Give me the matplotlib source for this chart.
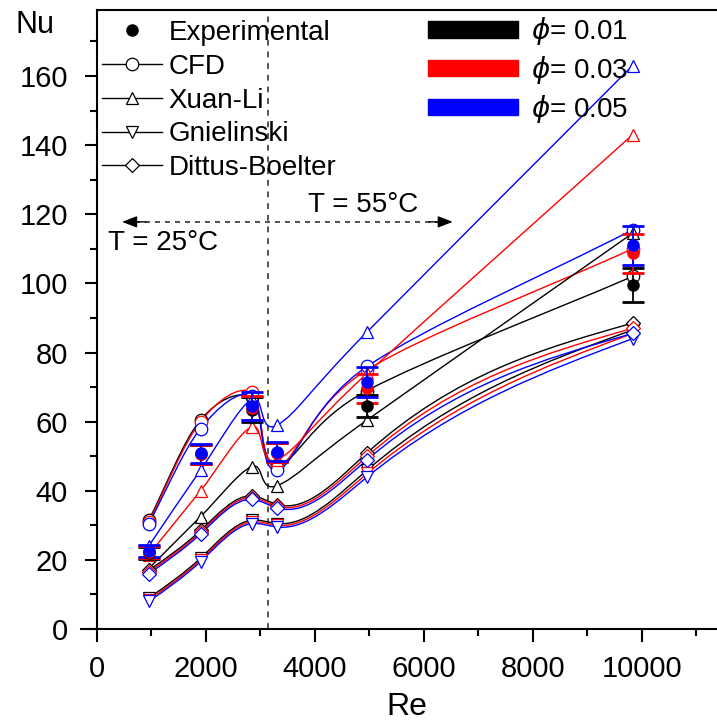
## plot.py: Nu vs Re for nanofluid, experiment / CFD / correlations
# -----------------------------------------------------------------------------
import numpy as np
import matplotlib
matplotlib.use('Agg')
from matplotlib import pyplot as plt
from matplotlib.path import Path
from matplotlib.patches import PathPatch, Patch
from matplotlib.lines import Line2D

plt.rcParams['font.family'] = ['Liberation Sans', 'DejaVu Sans']
plt.rcParams['mathtext.fontset'] = 'dejavusans'

# -----------------------------------------------------------------------------
# data
reynolds = [950, 1900, 2840, 3310, 4960, 9830]

exp_001 = [22.0, 50.5, 63.5, 51.0, 64.5, 99.5]
exp_003 = [22.3, 50.5, 64.0, 51.0, 69.7, 108.7]
exp_005 = [22.6, 50.8, 64.5, 51.3, 71.5, 111.0]
err_001 = [1.8, 2.8, 3.5, 2.8, 3.3, 4.9]
err_003 = [1.8, 2.8, 3.5, 2.8, 4.2, 5.7]
err_005 = [1.8, 2.8, 4.0, 2.8, 4.3, 5.7]

cfd_001 = [31.5, 60.5, 67.0, 47.5, 69.0, 102.0]
cfd_003 = [31.0, 60.0, 68.5, 47.0, 75.0, 110.0]
cfd_005 = [30.5, 58.0, 67.5, 46.0, 76.0, 115.5]

xuan_001 = [17.5, 32.5, 47.0, 41.5, 60.5, 114.5]
xuan_003 = [21.5, 40.0, 58.5, 49.0, 74.0, 143.0]
xuan_005 = [24.0, 46.0, 66.5, 59.0, 86.0, 163.0]

gniel_001 = [9.0, 20.5, 31.5, 30.5, 46.0, 86.5]
gniel_003 = [8.5, 20.0, 31.0, 30.0, 45.0, 85.5]
gniel_005 = [8.0, 19.5, 30.5, 29.5, 44.0, 84.0]

dittus_001 = [17.0, 28.5, 38.5, 36.0, 51.0, 88.5]
dittus_003 = [16.5, 28.0, 38.0, 35.5, 50.0, 87.0]
dittus_005 = [16.0, 27.5, 37.5, 35.0, 49.0, 85.5]

phi_labels = ['0.01', '0.03', '0.05']
colors = ['black', 'red', 'blue']


# -----------------------------------------------------------------------------
def natural_path(xx, yy):
    ''' natural cubic spline y(x) through the points, as bezier segments '''
    xx, yy = np.asarray(xx, float), np.asarray(yy, float)
    nn = len(xx)
    hh = np.diff(xx)
    ss = np.diff(yy) / hh
    aa = np.zeros((nn, nn))
    rr = np.zeros(nn)
    aa[0, 0] = aa[-1, -1] = 1.
    for ii in range(1, nn - 1):
        aa[ii, ii - 1] = hh[ii - 1]
        aa[ii, ii] = 2 * (hh[ii - 1] + hh[ii])
        aa[ii, ii + 1] = hh[ii]
        rr[ii] = 6 * (ss[ii] - ss[ii - 1])
    mm = np.linalg.solve(aa, rr)
    d_left = ss - hh * (2 * mm[:-1] + mm[1:]) / 6
    d_right = ss + hh * (mm[:-1] + 2 * mm[1:]) / 6
    verts = [(xx[0], yy[0])]
    codes = [Path.MOVETO]
    for ii in range(nn - 1):
        verts += [(xx[ii] + hh[ii] / 3, yy[ii] + hh[ii] * d_left[ii] / 3),
                  (xx[ii + 1] - hh[ii] / 3, yy[ii + 1] - hh[ii] * d_right[ii] / 3),
                  (xx[ii + 1], yy[ii + 1])]
        codes += [Path.CURVE4] * 3
    return Path(verts, codes)


def catmull_path(xx, yy):
    ''' catmull-rom curve through the points, as bezier segments '''
    pts = np.column_stack([xx, yy]).astype(float)
    nn = len(pts)
    tan = np.zeros_like(pts)
    tan[0] = pts[1] - pts[0]
    tan[-1] = pts[-1] - pts[-2]
    tan[1:-1] = (pts[2:] - pts[:-2]) / 2
    verts = [tuple(pts[0])]
    codes = [Path.MOVETO]
    for ii in range(nn - 1):
        verts += [tuple(pts[ii] + tan[ii] / 3), tuple(pts[ii + 1] - tan[ii + 1] / 3),
                  tuple(pts[ii + 1])]
        codes += [Path.CURVE4] * 3
    return Path(verts, codes)


# -----------------------------------------------------------------------------
fig = plt.figure(figsize=(7.17, 7.25), dpi=100)
ax = fig.add_axes([97 / 717, 1 - 629 / 725, 620 / 717, 619 / 725])

models = [
    ('o', catmull_path, [cfd_001, cfd_003, cfd_005]),
    ('^', catmull_path, [xuan_001, xuan_003, xuan_005]),
    ('v', natural_path, [gniel_001, gniel_003, gniel_005]),
    ('D', natural_path, [dittus_001, dittus_003, dittus_005]),
]
for marker, make_path, series in models:
    for vals, col in zip(series, colors):
        ax.add_patch(PathPatch(make_path(reynolds, vals), fill=False,
                               edgecolor=col, linewidth=1.0, zorder=2))
        ax.plot(reynolds, vals, linestyle='none', marker=marker,
                markersize=9 if marker != 'D' else 7.5, markerfacecolor='white',
                markeredgecolor=col, markeredgewidth=0.9, zorder=3)

for vals, errs, col in zip([exp_001, exp_003, exp_005],
                           [err_001, err_003, err_005], colors):
    ax.errorbar(reynolds, vals, yerr=errs, fmt='o', color=col, markersize=8,
                elinewidth=1.3, capsize=8, capthick=2.0, zorder=4)

# separation of the two temperatures
ax.axvline(3140, color='#555555', linestyle=(0, (3, 3)), linewidth=1.4, zorder=1)
ax.plot([700, 6300], [117.8, 117.8], color='#333333',
        linestyle=(0, (3, 3)), linewidth=1.2, zorder=1)
for x_tip, x_tail in [(460, 900), (6530, 6090)]:
    ax.annotate('', xy=(x_tip, 117.8), xytext=(x_tail, 117.8),
                arrowprops=dict(arrowstyle='-|>,head_length=0.9,head_width=0.35',
                                color='black', linewidth=1.0,
                                shrinkA=0, shrinkB=0))
ax.text(200, 111.7, 'T = 25°C', fontsize=20, ha='left', va='center')
ax.text(3870, 122.7, 'T = 55°C', fontsize=20, ha='left', va='center')

# -----------------------------------------------------------------------------
ax.set_xlim(0, 11380)
ax.set_ylim(0, 179.1)
ax.set_xticks(np.arange(0, 10001, 2000))
ax.set_xticks(np.arange(1000, 11001, 2000), minor=True)
ax.set_yticks(np.arange(0, 161, 20))
ax.set_yticks(np.arange(10, 171, 20), minor=True)
ax.tick_params(which='major', direction='out', length=9, width=1.5,
               labelsize=21)
ax.tick_params(which='minor', direction='out', length=5, width=1.5)
ax.tick_params(axis='x', which='major', pad=10)
ax.tick_params(axis='y', which='major', pad=12)
for side in ['left', 'bottom', 'top']:
    ax.spines[side].set_linewidth(1.5)
ax.spines['right'].set_visible(False)
ax.spines['bottom'].set_bounds(-300, 11380)

ax.set_xlabel('Re', fontsize=23, labelpad=6)
ax.set_ylabel('Nu', fontsize=22, rotation=0, ha='left', va='center')
ax.yaxis.set_label_coords(-0.132, 0.975)

# legends
handles_a = [Line2D([], [], linestyle='none', marker='o', color='black', markersize=8)]
for marker, _, _ in models:
    handles_a.append(Line2D([], [], color='black', linewidth=1.0, marker=marker,
                            markersize=9 if marker != 'D' else 7.5,
                            markerfacecolor='white', markeredgecolor='black',
                            markeredgewidth=0.9))
leg_a = ax.legend(handles_a, ['Experimental', 'CFD', 'Xuan-Li', 'Gnielinski',
                              'Dittus-Boelter'],
                  loc='upper left', bbox_to_anchor=(102 / 717, 1 - 20 / 725),
                  bbox_transform=fig.transFigure, frameon=False, fontsize=20,
                  borderpad=0, borderaxespad=0, handlelength=2.15,
                  handletextpad=0.25, labelspacing=0.28)
ax.add_artist(leg_a)

handles_b = [Patch(facecolor=col, edgecolor=col) for col in colors]
ax.legend(handles_b, [r'$\phi$= ' + lab for lab in phi_labels],
          loc='upper left', bbox_to_anchor=(428 / 717, 1 - 15 / 725),
          bbox_transform=fig.transFigure, frameon=False, fontsize=20,
          borderpad=0, borderaxespad=0, handlelength=3.25, handleheight=0.55,
          handletextpad=0.45, labelspacing=0.25)

fig.savefig('out.png', dpi=100)
